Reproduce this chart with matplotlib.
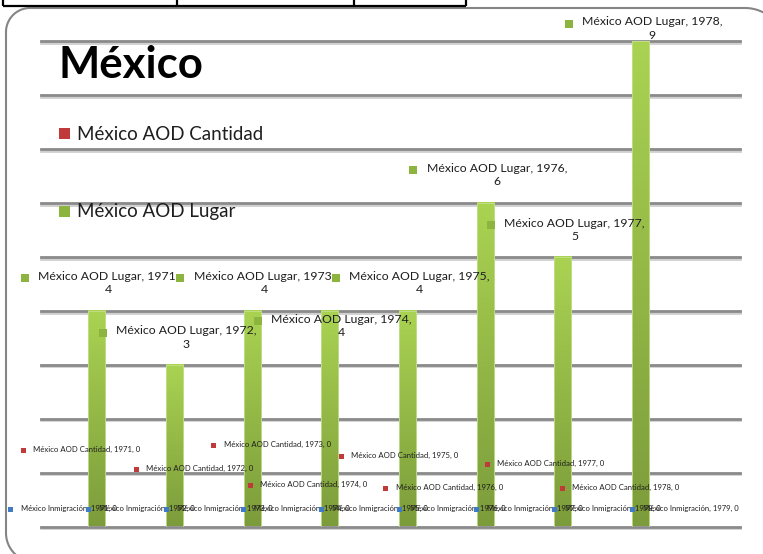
import numpy as np
import matplotlib
matplotlib.use('Agg')
import matplotlib.pyplot as plt
import matplotlib.patheffects as pe
from matplotlib.colors import LinearSegmentedColormap
from matplotlib.offsetbox import AnnotationBbox, HPacker, TextArea, DrawingArea
from matplotlib.patches import Rectangle

plt.rcParams['font.family'] = ['Lato', 'DejaVu Sans']

# --- data ---
years = ['1971', '1972', '1973', '1974', '1975', '1976', '1977', '1978', '1979']
inmigracion = [0, 0, 0, 0, 0, 0, 0, 0, 0]
aod_cantidad = [0, 0, 0, 0, 0, 0, 0, 0]
aod_lugar = [4, 3, 4, 4, 4, 6, 5, 9]

# label nudges (pixels) for the hand-placed data labels
lugar_dy = [28, 27, 28, -15, 28, 28, 27, 13]
cantidad_dx = [1, 36, 36, -5, 8, -25, -1, -4]
cantidad_dy = [76, 57, 81, 41, 70, 38, 62, 38]

W, H = 763, 554
PT = 72 / 100  # pixels -> points at dpi 100
RED, GREEN, BLUE = '#c0393b', '#8db43e', '#3f7bc6'
BAR_W = 0.22


def key_label(ax, x, y, text, color, size, key_px, gap_px, dx_px, dy_px):
    line_pt = size * 1.25
    da = DrawingArea((key_px + gap_px) * PT, line_pt, 0, 0)
    k = key_px * PT
    da.add_artist(Rectangle((0, (line_pt - k) / 2), k, k, facecolor=color, edgecolor='none'))
    txt = TextArea(text, textprops=dict(fontsize=size, color='#1e1e1e',
                                        multialignment='center', linespacing=1.3))
    box = HPacker(children=[da, txt], align='top', pad=0, sep=0)
    ab = AnnotationBbox(box, (x, y), xybox=(dx_px * PT, dy_px * PT), xycoords='data',
                        boxcoords='offset points', frameon=False, pad=0,
                        box_alignment=(0.5, 0.5), zorder=5, annotation_clip=False)
    ax.add_artist(ab)


def rounded_frame(x0, y0, x1, y1, radii, n=30):
    # outline of a rounded rectangle in a y-down pixel space
    # radii: top-left, top-right, bottom-right, bottom-left
    tl, tr, br, bl = radii
    corners = [(x0 + tl, y0 + tl, tl, 180, 270), (x1 - tr, y0 + tr, tr, 270, 360),
               (x1 - br, y1 - br, br, 0, 90), (x0 + bl, y1 - bl, bl, 90, 180)]
    xs, ys = [], []
    for cx, cy, r, a0, a1 in corners:
        t = np.radians(np.linspace(a0, a1, n))
        xs.extend(cx + r * np.cos(t))
        ys.extend(cy + r * np.sin(t))
    return xs + xs[:1], ys + ys[:1]


fig = plt.figure(figsize=(W / 100, H / 100), dpi=100)

# chart area
ax = fig.add_axes([41 / W, (H - 526.5) / H, 699 / W, 485.2 / H])
ax.patch.set_visible(False)
ax.axis('off')

x = np.arange(len(years))
for yv in range(10):
    ax.axhline(yv, color='#8a8a8a', lw=2.0, zorder=1, clip_on=False,
               path_effects=[pe.SimpleLineShadow(offset=(0, -1.2), shadow_color='#b0b0b0', alpha=0.6),
                             pe.Normal()])

ax.bar(x - BAR_W, inmigracion, BAR_W, color=BLUE, zorder=2)
ax.bar(x[:len(aod_cantidad)], aod_cantidad, BAR_W, color=RED, zorder=2)

# AOD Lugar bars with a vertical green gradient
grad = LinearSegmentedColormap.from_list('lugar', ['#7c9c3b', '#aad352'])
ramp = np.linspace(0, 1, 256).reshape(-1, 1)
for i, v in enumerate(aod_lugar):
    xc = x[i] + BAR_W
    ax.imshow(ramp, cmap=grad, origin='lower', aspect='auto', zorder=2,
              extent=(xc - BAR_W / 2, xc + BAR_W / 2, 0, v))
    ax.add_patch(Rectangle((xc - BAR_W / 2, 0), BAR_W, v, facecolor='none',
                           edgecolor='#c4e08e', lw=0.6, zorder=2))

ax.set_xlim(-0.5, len(years) - 0.5)
ax.set_ylim(0, 9)

# data labels
for i, v in enumerate(aod_lugar):
    key_label(ax, x[i] + BAR_W, v, f'México AOD Lugar, {years[i]},\n{v}', GREEN, 8.8,
              8, 9.5, 3, lugar_dy[i])
for i, v in enumerate(aod_cantidad):
    key_label(ax, x[i], v, f'México AOD Cantidad, {years[i]}, {v}', RED, 5.6,
              5, 7.5, cantidad_dx[i], cantidad_dy[i])
for i, v in enumerate(inmigracion):
    key_label(ax, x[i] - BAR_W, v, f'México Inmigración, {years[i]}, {v}', BLUE, 5.5,
              5, 8, 0, 17)

# page layer in pixel coordinates: frame, title and legend
bg = fig.add_axes([0, 0, 1, 1])
bg.set_zorder(2)
bg.axis('off')
fx, fy = rounded_frame(6, 8, 785, 562, (24, 40, 40, 29))
bg.plot(fx, fy, color='#858585', lw=1.5)
bg.plot([3, 466], [6, 6], color='black', lw=1.6, solid_capstyle='butt')
for xv in [3, 177, 354, 466]:
    bg.plot([xv, xv], [0, 6], color='black', lw=1.6, solid_capstyle='butt')
bg.set_xlim(0, W)
bg.set_ylim(H, 0)

bg.text(58, 78.5, 'México', fontsize=31.5, fontweight='bold', va='baseline', color='black')
bg.add_patch(Rectangle((59, 128), 11, 11, facecolor=RED, edgecolor='none'))
bg.text(77, 139.5, 'México AOD Cantidad', fontsize=13.5, va='baseline', color='#1e1e1e')
bg.add_patch(Rectangle((59, 205.5), 11, 11, facecolor=GREEN, edgecolor='none'))
bg.text(77, 216.5, 'México AOD Lugar', fontsize=13.5, va='baseline', color='#1e1e1e')

fig.savefig('out.png', dpi=100)
